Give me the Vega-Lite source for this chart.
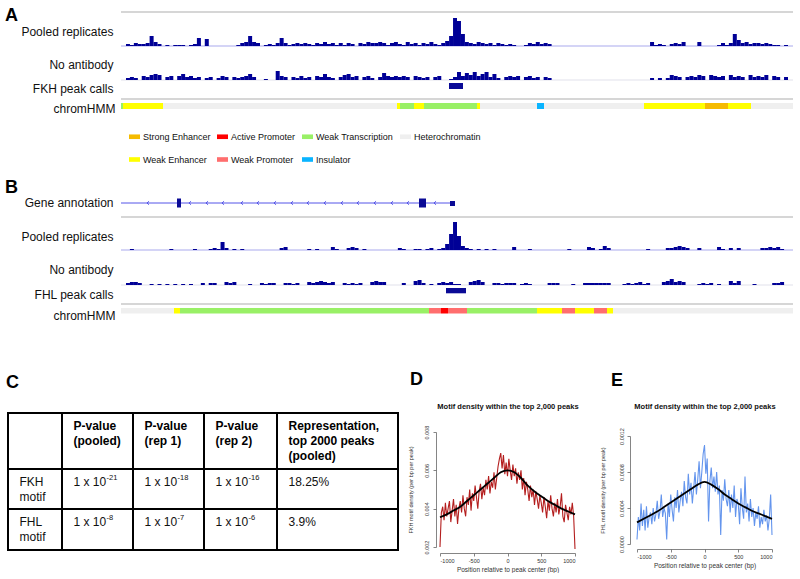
{
"$schema": "https://vega.github.io/schema/vega-lite/v6.json",
"background": "white",
"padding": {"left": 5, "top": 7, "right": 5, "bottom": 0},
"autosize": {"type": "pad"},
"config": {
  "view": {"stroke": null},
  "font": "Liberation Sans",
  "axis": {"labelFont": "Liberation Sans", "titleFont": "Liberation Sans"},
  "title": {"font": "Liberation Sans", "color": "#000000"},
  "text": {"font": "Liberation Sans"}
},
"datasets": {
  "a_pool": [{"p":2,"v":2},{"p":6,"v":1},{"p":10,"v":3},{"p":14,"v":2},{"p":18,"v":2},{"p":22,"v":3},{"p":26,"v":10},{"p":30,"v":4},{"p":34,"v":2},{"p":42,"v":1},{"p":50,"v":1},{"p":54,"v":1},{"p":58,"v":1},{"p":66,"v":1},{"p":70,"v":2},{"p":74,"v":8},{"p":82,"v":7},{"p":114,"v":1},{"p":118,"v":3},{"p":122,"v":4},{"p":126,"v":10},{"p":130,"v":4},{"p":134,"v":3},{"p":142,"v":1},{"p":146,"v":2},{"p":150,"v":1},{"p":154,"v":3},{"p":158,"v":8},{"p":162,"v":3},{"p":166,"v":1},{"p":170,"v":2},{"p":174,"v":3},{"p":178,"v":2},{"p":182,"v":3},{"p":186,"v":2},{"p":190,"v":1},{"p":194,"v":3},{"p":198,"v":2},{"p":202,"v":4},{"p":206,"v":2},{"p":210,"v":3},{"p":214,"v":1},{"p":218,"v":3},{"p":222,"v":1},{"p":226,"v":3},{"p":230,"v":2},{"p":238,"v":3},{"p":242,"v":2},{"p":246,"v":4},{"p":250,"v":3},{"p":254,"v":3},{"p":258,"v":4},{"p":262,"v":3},{"p":266,"v":1},{"p":270,"v":3},{"p":274,"v":4},{"p":278,"v":2},{"p":282,"v":1},{"p":286,"v":4},{"p":290,"v":2},{"p":294,"v":3},{"p":298,"v":1},{"p":302,"v":3},{"p":306,"v":2},{"p":310,"v":4},{"p":314,"v":2},{"p":318,"v":1},{"p":322,"v":3},{"p":326,"v":5},{"p":330,"v":10},{"p":334,"v":28},{"p":338,"v":25},{"p":342,"v":12},{"p":346,"v":4},{"p":350,"v":3},{"p":354,"v":2},{"p":358,"v":4},{"p":362,"v":3},{"p":366,"v":2},{"p":370,"v":3},{"p":374,"v":1},{"p":378,"v":3},{"p":382,"v":2},{"p":386,"v":1},{"p":390,"v":2},{"p":394,"v":1},{"p":406,"v":1},{"p":410,"v":3},{"p":414,"v":2},{"p":418,"v":4},{"p":422,"v":2},{"p":426,"v":3},{"p":430,"v":2},{"p":534,"v":4},{"p":538,"v":1},{"p":542,"v":2},{"p":546,"v":1},{"p":554,"v":2},{"p":558,"v":3},{"p":562,"v":2},{"p":566,"v":4},{"p":582,"v":4},{"p":602,"v":1},{"p":606,"v":3},{"p":610,"v":1},{"p":614,"v":3},{"p":618,"v":12},{"p":622,"v":6},{"p":626,"v":3},{"p":630,"v":4},{"p":634,"v":2},{"p":638,"v":3},{"p":642,"v":3},{"p":646,"v":2},{"p":650,"v":3},{"p":654,"v":2},{"p":658,"v":1},{"p":662,"v":1},{"p":670,"v":1}],
  "a_noab": [{"p":2,"v":2},{"p":6,"v":3},{"p":10,"v":2},{"p":18,"v":4},{"p":22,"v":3},{"p":26,"v":5},{"p":30,"v":6},{"p":34,"v":5},{"p":42,"v":3},{"p":46,"v":4},{"p":54,"v":4},{"p":58,"v":6},{"p":62,"v":3},{"p":66,"v":4},{"p":70,"v":2},{"p":74,"v":3},{"p":82,"v":2},{"p":86,"v":3},{"p":94,"v":2},{"p":98,"v":4},{"p":102,"v":3},{"p":110,"v":3},{"p":114,"v":2},{"p":118,"v":3},{"p":122,"v":4},{"p":126,"v":6},{"p":130,"v":3},{"p":142,"v":1},{"p":154,"v":9},{"p":158,"v":4},{"p":162,"v":3},{"p":170,"v":3},{"p":174,"v":2},{"p":178,"v":4},{"p":182,"v":2},{"p":186,"v":3},{"p":194,"v":4},{"p":198,"v":3},{"p":202,"v":6},{"p":206,"v":3},{"p":210,"v":2},{"p":218,"v":3},{"p":222,"v":5},{"p":226,"v":6},{"p":230,"v":3},{"p":234,"v":4},{"p":242,"v":3},{"p":246,"v":4},{"p":250,"v":2},{"p":258,"v":3},{"p":262,"v":7},{"p":266,"v":4},{"p":270,"v":3},{"p":274,"v":4},{"p":278,"v":3},{"p":282,"v":4},{"p":286,"v":3},{"p":294,"v":4},{"p":298,"v":3},{"p":302,"v":2},{"p":306,"v":3},{"p":314,"v":3},{"p":318,"v":4},{"p":330,"v":1},{"p":334,"v":3},{"p":338,"v":8},{"p":342,"v":4},{"p":346,"v":7},{"p":350,"v":5},{"p":354,"v":8},{"p":358,"v":4},{"p":362,"v":6},{"p":366,"v":8},{"p":370,"v":3},{"p":374,"v":6},{"p":378,"v":2},{"p":386,"v":3},{"p":390,"v":4},{"p":394,"v":3},{"p":398,"v":4},{"p":406,"v":3},{"p":410,"v":4},{"p":414,"v":2},{"p":418,"v":3},{"p":426,"v":3},{"p":430,"v":2},{"p":534,"v":2},{"p":542,"v":2},{"p":550,"v":2},{"p":554,"v":5},{"p":558,"v":4},{"p":562,"v":3},{"p":570,"v":3},{"p":574,"v":4},{"p":578,"v":3},{"p":582,"v":5},{"p":586,"v":4},{"p":594,"v":5},{"p":598,"v":4},{"p":602,"v":3},{"p":606,"v":4},{"p":614,"v":5},{"p":618,"v":3},{"p":622,"v":4},{"p":626,"v":3},{"p":634,"v":5},{"p":638,"v":3},{"p":642,"v":4},{"p":646,"v":3},{"p":650,"v":5},{"p":658,"v":4},{"p":662,"v":3},{"p":670,"v":3}],
  "b_pool": [{"p":6,"v":1},{"p":46,"v":1},{"p":70,"v":1},{"p":86,"v":1},{"p":90,"v":2},{"p":94,"v":1},{"p":98,"v":8},{"p":102,"v":2},{"p":110,"v":1},{"p":118,"v":1},{"p":158,"v":2},{"p":162,"v":3},{"p":186,"v":1},{"p":194,"v":1},{"p":210,"v":3},{"p":214,"v":1},{"p":226,"v":2},{"p":230,"v":3},{"p":234,"v":2},{"p":242,"v":1},{"p":278,"v":2},{"p":282,"v":1},{"p":294,"v":1},{"p":298,"v":1},{"p":306,"v":1},{"p":310,"v":2},{"p":318,"v":1},{"p":322,"v":2},{"p":326,"v":6},{"p":330,"v":16},{"p":334,"v":28},{"p":338,"v":14},{"p":342,"v":4},{"p":346,"v":2},{"p":350,"v":1},{"p":358,"v":1},{"p":366,"v":1},{"p":374,"v":1},{"p":394,"v":3},{"p":410,"v":1},{"p":450,"v":1},{"p":470,"v":3},{"p":474,"v":2},{"p":482,"v":1},{"p":486,"v":4},{"p":490,"v":2},{"p":530,"v":1},{"p":550,"v":2},{"p":554,"v":2},{"p":558,"v":3},{"p":562,"v":4},{"p":566,"v":3},{"p":570,"v":2},{"p":582,"v":2},{"p":602,"v":3},{"p":606,"v":1},{"p":614,"v":2},{"p":622,"v":2},{"p":646,"v":2},{"p":650,"v":2},{"p":654,"v":3},{"p":658,"v":2},{"p":662,"v":3},{"p":666,"v":1}],
  "b_noab": [{"p":2,"v":2},{"p":6,"v":3},{"p":10,"v":3},{"p":14,"v":2},{"p":26,"v":1},{"p":34,"v":1},{"p":42,"v":1},{"p":50,"v":1},{"p":58,"v":1},{"p":66,"v":1},{"p":78,"v":2},{"p":86,"v":2},{"p":90,"v":2},{"p":102,"v":3},{"p":106,"v":2},{"p":110,"v":3},{"p":126,"v":1},{"p":138,"v":2},{"p":142,"v":1},{"p":146,"v":2},{"p":150,"v":2},{"p":162,"v":2},{"p":166,"v":2},{"p":170,"v":1},{"p":174,"v":2},{"p":186,"v":3},{"p":190,"v":2},{"p":194,"v":3},{"p":198,"v":4},{"p":202,"v":3},{"p":206,"v":2},{"p":210,"v":3},{"p":222,"v":2},{"p":226,"v":1},{"p":230,"v":2},{"p":234,"v":1},{"p":238,"v":2},{"p":250,"v":3},{"p":254,"v":4},{"p":258,"v":3},{"p":262,"v":3},{"p":282,"v":2},{"p":294,"v":4},{"p":298,"v":5},{"p":302,"v":2},{"p":310,"v":1},{"p":318,"v":2},{"p":322,"v":3},{"p":326,"v":2},{"p":330,"v":3},{"p":334,"v":1},{"p":338,"v":1},{"p":350,"v":3},{"p":354,"v":4},{"p":358,"v":5},{"p":362,"v":3},{"p":374,"v":2},{"p":378,"v":2},{"p":382,"v":1},{"p":386,"v":2},{"p":390,"v":2},{"p":394,"v":2},{"p":402,"v":1},{"p":406,"v":2},{"p":410,"v":1},{"p":430,"v":2},{"p":434,"v":2},{"p":438,"v":2},{"p":454,"v":1},{"p":466,"v":2},{"p":470,"v":2},{"p":474,"v":2},{"p":478,"v":2},{"p":482,"v":2},{"p":486,"v":2},{"p":490,"v":2},{"p":506,"v":1},{"p":510,"v":2},{"p":514,"v":1},{"p":518,"v":2},{"p":522,"v":3},{"p":526,"v":1},{"p":530,"v":2},{"p":546,"v":3},{"p":550,"v":4},{"p":554,"v":6},{"p":558,"v":3},{"p":562,"v":4},{"p":566,"v":3},{"p":582,"v":1},{"p":586,"v":2},{"p":590,"v":1},{"p":594,"v":2},{"p":602,"v":1},{"p":614,"v":4},{"p":618,"v":2},{"p":622,"v":4},{"p":638,"v":1},{"p":658,"v":2},{"p":662,"v":2},{"p":666,"v":3}],
  "hmm_a": [{"s":0,"e":2,"state":"Weak Transcription"},{"s":2,"e":42,"state":"Weak Enhancer"},{"s":42,"e":276,"state":"Heterochromatin"},{"s":276,"e":279,"state":"Weak Enhancer"},{"s":279,"e":293,"state":"Weak Transcription"},{"s":293,"e":303,"state":"Weak Enhancer"},{"s":303,"e":356,"state":"Weak Transcription"},{"s":356,"e":359,"state":"Weak Enhancer"},{"s":359,"e":416,"state":"Heterochromatin"},{"s":416,"e":423,"state":"Insulator"},{"s":423,"e":523,"state":"Heterochromatin"},{"s":523,"e":584,"state":"Weak Enhancer"},{"s":584,"e":607,"state":"Strong Enhancer"},{"s":607,"e":630,"state":"Weak Enhancer"},{"s":630,"e":672,"state":"Heterochromatin"},{"s":672,"e":672,"state":"Active Promoter"},{"s":672,"e":672,"state":"Weak Promoter"}],
  "hmm_b": [{"s":0,"e":53,"state":"Heterochromatin"},{"s":53,"e":59,"state":"Weak Enhancer"},{"s":59,"e":308,"state":"Weak Transcription"},{"s":308,"e":320,"state":"Weak Promoter"},{"s":320,"e":327,"state":"Active Promoter"},{"s":327,"e":346,"state":"Weak Promoter"},{"s":346,"e":416,"state":"Weak Transcription"},{"s":416,"e":441,"state":"Weak Enhancer"},{"s":441,"e":454,"state":"Weak Promoter"},{"s":454,"e":473,"state":"Weak Enhancer"},{"s":473,"e":486,"state":"Weak Promoter"},{"s":486,"e":492,"state":"Weak Enhancer"},{"s":492,"e":672,"state":"Heterochromatin"}],
  "peak_a": [{"s":328,"e":342}],
  "peak_b": [{"s":325,"e":345}],
  "gene": [{"s":0,"e":334}],
  "introns": [{"p":27},{"p":69},{"p":86},{"p":102},{"p":121},{"p":137},{"p":154},{"p":171},{"p":187},{"p":204},{"p":221},{"p":237},{"p":254},{"p":271},{"p":287},{"p":314}],
  "exons": [{"s":56,"e":60,"k":"cds"},{"s":298,"e":305,"k":"cds"},{"s":329,"e":334,"k":"utr"}],
  "tcols": [{"e":0},{"e":1},{"e":2},{"e":3},{"e":4},{"e":5}],
  "trows": [{"e":0},{"e":1},{"e":2},{"e":3}],
  "table": [
    {"c":1,"r":0,"t":"P-value\n(pooled)"},
    {"c":2,"r":0,"t":"P-value\n(rep 1)"},
    {"c":3,"r":0,"t":"P-value\n(rep 2)"},
    {"c":4,"r":0,"t":"Representation,\ntop 2000 peaks\n(pooled)"},
    {"c":0,"r":1,"t":"FKH\nmotif"},
    {"c":1,"r":1,"t":"1 x 10","s":"-21"},
    {"c":2,"r":1,"t":"1 x 10","s":"-18"},
    {"c":3,"r":1,"t":"1 x 10","s":"-16"},
    {"c":4,"r":1,"t":"18.25%"},
    {"c":0,"r":2,"t":"FHL\nmotif"},
    {"c":1,"r":2,"t":"1 x 10","s":"-8"},
    {"c":2,"r":2,"t":"1 x 10","s":"-7"},
    {"c":3,"r":2,"t":"1 x 10","s":"-6"},
    {"c":4,"r":2,"t":"3.9%"}
  ],
  "d_obs": [{"x":-1000,"v":0.0020},{"x":-980,"v":0.0038},{"x":-960,"v":0.0041},{"x":-940,"v":0.0034},{"x":-920,"v":0.0043},{"x":-900,"v":0.0036},{"x":-880,"v":0.0040},{"x":-860,"v":0.0044},{"x":-840,"v":0.0033},{"x":-820,"v":0.0039},{"x":-800,"v":0.0045},{"x":-780,"v":0.0036},{"x":-760,"v":0.0042},{"x":-740,"v":0.0032},{"x":-720,"v":0.0040},{"x":-700,"v":0.0044},{"x":-680,"v":0.0038},{"x":-660,"v":0.0047},{"x":-640,"v":0.0040},{"x":-620,"v":0.0036},{"x":-600,"v":0.0046},{"x":-580,"v":0.0042},{"x":-560,"v":0.0050},{"x":-540,"v":0.0039},{"x":-520,"v":0.0048},{"x":-500,"v":0.0044},{"x":-480,"v":0.0052},{"x":-460,"v":0.0046},{"x":-440,"v":0.0040},{"x":-420,"v":0.0049},{"x":-400,"v":0.0053},{"x":-380,"v":0.0045},{"x":-360,"v":0.0051},{"x":-340,"v":0.0047},{"x":-320,"v":0.0055},{"x":-300,"v":0.0050},{"x":-280,"v":0.0057},{"x":-260,"v":0.0048},{"x":-240,"v":0.0054},{"x":-220,"v":0.0051},{"x":-200,"v":0.0059},{"x":-180,"v":0.0050},{"x":-160,"v":0.0056},{"x":-140,"v":0.0062},{"x":-120,"v":0.0066},{"x":-100,"v":0.0069},{"x":-80,"v":0.0061},{"x":-60,"v":0.0068},{"x":-40,"v":0.0058},{"x":-20,"v":0.0064},{"x":0,"v":0.0057},{"x":20,"v":0.0066},{"x":40,"v":0.0060},{"x":60,"v":0.0055},{"x":80,"v":0.0063},{"x":100,"v":0.0057},{"x":120,"v":0.0061},{"x":140,"v":0.0053},{"x":160,"v":0.0059},{"x":180,"v":0.0055},{"x":200,"v":0.0060},{"x":220,"v":0.0050},{"x":240,"v":0.0056},{"x":260,"v":0.0047},{"x":280,"v":0.0054},{"x":300,"v":0.0050},{"x":320,"v":0.0044},{"x":340,"v":0.0052},{"x":360,"v":0.0046},{"x":380,"v":0.0050},{"x":400,"v":0.0042},{"x":420,"v":0.0049},{"x":440,"v":0.0045},{"x":460,"v":0.0040},{"x":480,"v":0.0047},{"x":500,"v":0.0043},{"x":520,"v":0.0038},{"x":540,"v":0.0046},{"x":560,"v":0.0041},{"x":580,"v":0.0035},{"x":600,"v":0.0044},{"x":620,"v":0.0039},{"x":640,"v":0.0047},{"x":660,"v":0.0040},{"x":680,"v":0.0036},{"x":700,"v":0.0043},{"x":720,"v":0.0038},{"x":740,"v":0.0045},{"x":760,"v":0.0037},{"x":780,"v":0.0041},{"x":800,"v":0.0048},{"x":820,"v":0.0036},{"x":840,"v":0.0033},{"x":860,"v":0.0042},{"x":880,"v":0.0038},{"x":900,"v":0.0034},{"x":920,"v":0.0041},{"x":940,"v":0.0037},{"x":960,"v":0.0043},{"x":980,"v":0.0036},{"x":1000,"v":0.0019}],
  "d_fit": [{"x":-1000,"v":0.00355},{"x":-900,"v":0.0037},{"x":-800,"v":0.0039},{"x":-700,"v":0.0041},{"x":-600,"v":0.0044},{"x":-500,"v":0.0047},{"x":-400,"v":0.0050},{"x":-300,"v":0.0053},{"x":-200,"v":0.0056},{"x":-100,"v":0.0059},{"x":0,"v":0.0060},{"x":100,"v":0.0059},{"x":200,"v":0.0056},{"x":300,"v":0.0052},{"x":400,"v":0.0049},{"x":500,"v":0.00465},{"x":600,"v":0.0044},{"x":700,"v":0.0042},{"x":800,"v":0.0040},{"x":900,"v":0.00385},{"x":1000,"v":0.0037}],
  "e_obs": [{"x":-1000,"v":0.00005},{"x":-980,"v":0.0003},{"x":-960,"v":0.00015},{"x":-940,"v":0.00045},{"x":-920,"v":0.0002},{"x":-900,"v":0.00038},{"x":-880,"v":0.00015},{"x":-860,"v":0.00042},{"x":-840,"v":0.00018},{"x":-820,"v":0.0003},{"x":-800,"v":0.00035},{"x":-780,"v":0.00022},{"x":-760,"v":0.0004},{"x":-740,"v":0.00025},{"x":-720,"v":0.00033},{"x":-700,"v":0.00048},{"x":-680,"v":0.00028},{"x":-660,"v":0.00036},{"x":-640,"v":0.00055},{"x":-620,"v":0.0003},{"x":-600,"v":0.0004},{"x":-580,"v":0.00034},{"x":-560,"v":0.00005},{"x":-540,"v":0.00045},{"x":-520,"v":0.0003},{"x":-500,"v":0.00055},{"x":-480,"v":0.00038},{"x":-460,"v":0.00025},{"x":-440,"v":0.00052},{"x":-420,"v":0.0004},{"x":-400,"v":0.0006},{"x":-380,"v":0.00035},{"x":-360,"v":0.00048},{"x":-340,"v":0.00058},{"x":-320,"v":0.00042},{"x":-300,"v":0.0007},{"x":-280,"v":0.00052},{"x":-260,"v":0.00045},{"x":-240,"v":0.00078},{"x":-220,"v":0.00055},{"x":-200,"v":0.00068},{"x":-180,"v":0.00045},{"x":-160,"v":0.00062},{"x":-140,"v":0.0008},{"x":-120,"v":0.00055},{"x":-100,"v":0.00072},{"x":-80,"v":0.00092},{"x":-60,"v":0.00062},{"x":-40,"v":0.0008},{"x":-20,"v":0.001},{"x":0,"v":0.0011},{"x":20,"v":0.00078},{"x":40,"v":0.00095},{"x":60,"v":0.00025},{"x":80,"v":0.0007},{"x":100,"v":0.00085},{"x":120,"v":0.00062},{"x":140,"v":0.00075},{"x":160,"v":0.00058},{"x":180,"v":0.0008},{"x":200,"v":0.00055},{"x":220,"v":0.00065},{"x":240,"v":0.0001},{"x":260,"v":0.0006},{"x":280,"v":0.00048},{"x":300,"v":0.00072},{"x":320,"v":0.0005},{"x":340,"v":0.00042},{"x":360,"v":0.0006},{"x":380,"v":0.00035},{"x":400,"v":0.00055},{"x":420,"v":0.0004},{"x":440,"v":0.00065},{"x":460,"v":0.0003},{"x":480,"v":0.0005},{"x":500,"v":0.00045},{"x":520,"v":0.00022},{"x":540,"v":0.00062},{"x":560,"v":0.0004},{"x":580,"v":0.00028},{"x":600,"v":0.00075},{"x":620,"v":0.00035},{"x":640,"v":0.00045},{"x":660,"v":0.00025},{"x":680,"v":0.0005},{"x":700,"v":0.0003},{"x":720,"v":0.0004},{"x":740,"v":0.0002},{"x":760,"v":0.00035},{"x":780,"v":0.00028},{"x":800,"v":0.00042},{"x":820,"v":0.00018},{"x":840,"v":0.0003},{"x":860,"v":0.00022},{"x":880,"v":0.00038},{"x":900,"v":0.00025},{"x":920,"v":0.00032},{"x":940,"v":0.00015},{"x":960,"v":0.00028},{"x":980,"v":0.00055},{"x":1000,"v":0.0001}],
  "e_fit": [{"x":-1000,"v":0.00024},{"x":-900,"v":0.00028},{"x":-800,"v":0.00032},{"x":-700,"v":0.00036},{"x":-600,"v":0.00041},{"x":-500,"v":0.00046},{"x":-400,"v":0.00051},{"x":-300,"v":0.00056},{"x":-200,"v":0.00061},{"x":-100,"v":0.00066},{"x":0,"v":0.00069},{"x":100,"v":0.00066},{"x":200,"v":0.00061},{"x":300,"v":0.00055},{"x":400,"v":0.0005},{"x":500,"v":0.00045},{"x":600,"v":0.00041},{"x":700,"v":0.00037},{"x":800,"v":0.00034},{"x":900,"v":0.00031},{"x":1000,"v":0.00028}]
},
"spacing": 50,
"vconcat": [
  {
    "spacing": 0,
    "bounds": "flush",
    "resolve": {"scale": {"color": "independent"}, "legend": {"color": "independent"}},
    "vconcat": [
      {
        "width": 672, "height": 34,
        "title": {"text": "A", "anchor": "start", "frame": "group", "dx": -116, "offset": -28, "baseline": "alphabetic", "fontSize": 18, "fontWeight": "bold"},
        "layer": [
          {"data": {"values": [{}]}, "mark": {"type": "rule", "color": "#d6d6d6", "strokeWidth": 2},
           "encoding": {"y": {"datum": 34, "type": "quantitative", "scale": {"domain": [0, 34], "nice": false},
             "axis": {"title": "Pooled replicates", "titleAngle": 0, "titleAlign": "right", "titleBaseline": "middle", "titleX": -8, "titleY": 19, "labels": false, "ticks": false, "domain": false, "grid": false, "titleFontWeight": "normal", "titleFontSize": 12, "titleColor": "#111111"}}}},
          {"data": {"values": [{}]}, "mark": {"type": "rule", "color": "#aaaaee", "strokeWidth": 1.2}, "encoding": {"y": {"datum": 0, "type": "quantitative"}}},
          {"data": {"name": "a_pool"}, "mark": {"type": "bar", "width": 4, "color": "#000096"},
           "encoding": {"x": {"field": "p", "type": "quantitative", "scale": {"domain": [0, 672], "nice": false}, "axis": null}, "y": {"field": "v", "type": "quantitative"}}}
        ]
      },
      {
        "width": 672, "height": 34,
        "layer": [
          {"data": {"values": [{}]}, "mark": {"type": "rule", "color": "#e2e2ec", "strokeWidth": 1.2},
           "encoding": {"y": {"datum": 0, "type": "quantitative", "scale": {"domain": [0, 34], "nice": false},
             "axis": {"title": "No antibody", "titleAngle": 0, "titleAlign": "right", "titleBaseline": "middle", "titleX": -8, "titleY": 18, "labels": false, "ticks": false, "domain": false, "grid": false, "titleFontWeight": "normal", "titleFontSize": 12, "titleColor": "#111111"}}}},
          {"data": {"name": "a_noab"}, "mark": {"type": "bar", "width": 4, "color": "#000096"},
           "encoding": {"x": {"field": "p", "type": "quantitative", "scale": {"domain": [0, 672], "nice": false}, "axis": null}, "y": {"field": "v", "type": "quantitative"}}}
        ]
      },
      {
        "width": 672, "height": 19,
        "layer": [
          {"data": {"values": [{}]}, "mark": {"type": "rule", "color": "#d6d6d6", "strokeWidth": 2},
           "encoding": {"y": {"datum": 0, "type": "quantitative", "scale": {"domain": [0, 19], "nice": false},
             "axis": {"title": "FKH peak calls", "titleAngle": 0, "titleAlign": "right", "titleBaseline": "middle", "titleX": -8, "titleY": 8.5, "labels": false, "ticks": false, "domain": false, "grid": false, "titleFontWeight": "normal", "titleFontSize": 12, "titleColor": "#111111"}}}},
          {"data": {"name": "peak_a"}, "mark": {"type": "rect", "color": "#0a0a96"},
           "encoding": {"x": {"field": "s", "type": "quantitative", "scale": {"domain": [0, 672], "nice": false}, "axis": null}, "x2": {"field": "e"}, "y": {"datum": 10, "type": "quantitative"}, "y2": {"datum": 16}}}
        ]
      },
      {
        "width": 672, "height": 12,
        "data": {"name": "hmm_a"},
        "mark": {"type": "rect"},
        "encoding": {
          "x": {"field": "s", "type": "quantitative", "scale": {"domain": [0, 672], "nice": false}, "axis": null},
          "x2": {"field": "e"},
          "y": {"datum": 2, "type": "quantitative", "scale": {"domain": [0, 12], "nice": false},
            "axis": {"title": "chromHMM", "titleAngle": 0, "titleAlign": "right", "titleBaseline": "middle", "titleX": -6, "titleY": 9.5, "labels": false, "ticks": false, "domain": false, "grid": false, "titleFontWeight": "normal", "titleFontSize": 12, "titleColor": "#111111"}},
          "y2": {"datum": 8},
          "color": {"field": "state", "type": "nominal",
            "scale": {"domain": ["Strong Enhancer", "Active Promoter", "Weak Transcription", "Heterochromatin", "Weak Enhancer", "Weak Promoter", "Insulator"], "range": ["#f5bb00", "#ff0000", "#99f066", "#efefef", "#ffff00", "#ff6e6e", "#0ab4ff"]},
            "legend": {"orient": "none", "legendX": 8, "legendY": 32, "direction": "horizontal", "columns": 4, "title": null, "symbolType": "M-1,-0.42H1V0.42H-1Z", "symbolSize": 121, "symbolStrokeWidth": 0, "labelFont": "Liberation Sans", "labelFontSize": 9, "labelColor": "#111111", "labelOffset": 3, "columnPadding": 6, "rowPadding": 12, "gridAlign": "each"}}
        }
      },
      {
        "width": 672, "height": 106,
        "title": {"text": "B", "anchor": "start", "frame": "group", "dx": -116, "offset": -100, "baseline": "alphabetic", "fontSize": 18, "fontWeight": "bold"},
        "layer": [
          {"data": {"values": [{}]}, "mark": {"type": "rule", "color": "#d6d6d6", "strokeWidth": 2},
           "encoding": {"y": {"datum": 0, "type": "quantitative", "scale": {"domain": [0, 106], "nice": false},
             "axis": {"title": "Gene annotation", "titleAngle": 0, "titleAlign": "right", "titleBaseline": "middle", "titleX": -8, "titleY": 91.5, "labels": false, "ticks": false, "domain": false, "grid": false, "titleFontWeight": "normal", "titleFontSize": 12, "titleColor": "#111111"}}}},
          {"data": {"name": "gene"}, "mark": {"type": "rule", "color": "#5555e8", "strokeWidth": 1},
           "encoding": {"x": {"field": "s", "type": "quantitative", "scale": {"domain": [0, 672], "nice": false}, "axis": null}, "x2": {"field": "e"}, "y": {"datum": 14, "type": "quantitative"}}},
          {"data": {"name": "introns"}, "mark": {"type": "point", "shape": "M0.6,-1L-0.6,0L0.6,1", "filled": false, "size": 12, "color": "#5555e8", "strokeWidth": 1, "opacity": 1},
           "encoding": {"x": {"field": "p", "type": "quantitative"}, "y": {"datum": 14, "type": "quantitative"}}},
          {"data": {"name": "exons"}, "transform": [{"filter": "datum.k == 'cds'"}], "mark": {"type": "rect", "color": "#0a0a96"},
           "encoding": {"x": {"field": "s", "type": "quantitative"}, "x2": {"field": "e"}, "y": {"datum": 9.5, "type": "quantitative"}, "y2": {"datum": 18.5}}},
          {"data": {"name": "exons"}, "transform": [{"filter": "datum.k == 'utr'"}], "mark": {"type": "rect", "color": "#0a0a96"},
           "encoding": {"x": {"field": "s", "type": "quantitative"}, "x2": {"field": "e"}, "y": {"datum": 11, "type": "quantitative"}, "y2": {"datum": 16}}}
        ]
      },
      {
        "width": 672, "height": 33,
        "layer": [
          {"data": {"values": [{}]}, "mark": {"type": "rule", "color": "#aaaaee", "strokeWidth": 1.2},
           "encoding": {"y": {"datum": 0, "type": "quantitative", "scale": {"domain": [0, 33], "nice": false},
             "axis": {"title": "Pooled replicates", "titleAngle": 0, "titleAlign": "right", "titleBaseline": "middle", "titleX": -8, "titleY": 19.5, "labels": false, "ticks": false, "domain": false, "grid": false, "titleFontWeight": "normal", "titleFontSize": 12, "titleColor": "#111111"}}}},
          {"data": {"name": "b_pool"}, "mark": {"type": "bar", "width": 4, "color": "#000096"},
           "encoding": {"x": {"field": "p", "type": "quantitative", "scale": {"domain": [0, 672], "nice": false}, "axis": null}, "y": {"field": "v", "type": "quantitative"}}}
        ]
      },
      {
        "width": 672, "height": 35,
        "layer": [
          {"data": {"values": [{}]}, "mark": {"type": "rule", "color": "#e2e2ec", "strokeWidth": 1.2},
           "encoding": {"y": {"datum": 0, "type": "quantitative", "scale": {"domain": [0, 35], "nice": false},
             "axis": {"title": "No antibody", "titleAngle": 0, "titleAlign": "right", "titleBaseline": "middle", "titleX": -8, "titleY": 19.5, "labels": false, "ticks": false, "domain": false, "grid": false, "titleFontWeight": "normal", "titleFontSize": 12, "titleColor": "#111111"}}}},
          {"data": {"name": "b_noab"}, "mark": {"type": "bar", "width": 4, "color": "#000096"},
           "encoding": {"x": {"field": "p", "type": "quantitative", "scale": {"domain": [0, 672], "nice": false}, "axis": null}, "y": {"field": "v", "type": "quantitative"}}}
        ]
      },
      {
        "width": 672, "height": 19,
        "layer": [
          {"data": {"values": [{}]}, "mark": {"type": "rule", "color": "#d6d6d6", "strokeWidth": 2},
           "encoding": {"y": {"datum": 0, "type": "quantitative", "scale": {"domain": [0, 19], "nice": false},
             "axis": {"title": "FHL peak calls", "titleAngle": 0, "titleAlign": "right", "titleBaseline": "middle", "titleX": -8, "titleY": 9, "labels": false, "ticks": false, "domain": false, "grid": false, "titleFontWeight": "normal", "titleFontSize": 12, "titleColor": "#111111"}}}},
          {"data": {"name": "peak_b"}, "mark": {"type": "rect", "color": "#0a0a96"},
           "encoding": {"x": {"field": "s", "type": "quantitative", "scale": {"domain": [0, 672], "nice": false}, "axis": null}, "x2": {"field": "e"}, "y": {"datum": 10.7, "type": "quantitative"}, "y2": {"datum": 16}}}
        ]
      },
      {
        "width": 672, "height": 12,
        "data": {"name": "hmm_b"},
        "mark": {"type": "rect"},
        "encoding": {
          "x": {"field": "s", "type": "quantitative", "scale": {"domain": [0, 672], "nice": false}, "axis": null},
          "x2": {"field": "e"},
          "y": {"datum": 2.5, "type": "quantitative", "scale": {"domain": [0, 12], "nice": false},
            "axis": {"title": "chromHMM", "titleAngle": 0, "titleAlign": "right", "titleBaseline": "middle", "titleX": -6, "titleY": 11, "labels": false, "ticks": false, "domain": false, "grid": false, "titleFontWeight": "normal", "titleFontSize": 12, "titleColor": "#111111"}},
          "y2": {"datum": 8},
          "color": {"field": "state", "type": "nominal",
            "scale": {"domain": ["Strong Enhancer", "Active Promoter", "Weak Transcription", "Heterochromatin", "Weak Enhancer", "Weak Promoter", "Insulator"], "range": ["#f5bb00", "#ff0000", "#99f066", "#efefef", "#ffff00", "#ff6e6e", "#0ab4ff"]},
            "legend": null}
        }
      }
    ]
  },
  {
    "spacing": 7,
    "hconcat": [
      {
        "width": 277, "height": 137,
        "title": {"text": "C", "anchor": "start", "frame": "group", "dx": -115, "offset": 6, "baseline": "alphabetic", "fontSize": 18, "fontWeight": "bold"},
        "layer": [
          {"data": {"name": "tcols"}, "mark": {"type": "rule", "color": "#000000", "strokeWidth": 2, "strokeCap": "square"},
           "encoding": {
             "x": {"field": "e", "type": "quantitative", "scale": {"domain": [0, 1, 2, 3, 4, 5], "range": [-113, -59, 12, 83, 156, 277], "nice": false, "zero": false}, "axis": null},
             "y": {"datum": 0, "type": "quantitative", "scale": {"domain": [0, 1, 2, 3], "range": [0, 56, 96, 137], "nice": false, "zero": false}, "axis": null},
             "y2": {"datum": 3}}},
          {"data": {"name": "trows"}, "mark": {"type": "rule", "color": "#000000", "strokeWidth": 2, "strokeCap": "square"},
           "encoding": {"y": {"field": "e", "type": "quantitative"}, "x": {"datum": 0, "type": "quantitative"}, "x2": {"datum": 5}}},
          {"data": {"name": "table"}, "transform": [{"filter": "datum.r == 0"}],
           "mark": {"type": "text", "align": "left", "baseline": "top", "dx": 11.5, "dy": 7.5, "fontSize": 12, "fontWeight": "bold", "lineBreak": "\n", "lineHeight": 15, "color": "#000000"},
           "encoding": {"x": {"field": "c", "type": "quantitative"}, "y": {"field": "r", "type": "quantitative"}, "text": {"field": "t"}}},
          {"data": {"name": "table"}, "transform": [{"filter": "datum.r > 0"}],
           "mark": {"type": "text", "align": "left", "baseline": "top", "dx": 11.5, "dy": 7.5, "fontSize": 12, "lineBreak": "\n", "lineHeight": 15, "color": "#111111"},
           "encoding": {"x": {"field": "c", "type": "quantitative"}, "y": {"field": "r", "type": "quantitative"}, "text": {"field": "t"}}},
          {"data": {"name": "table"}, "transform": [{"filter": "datum.s"}],
           "mark": {"type": "text", "align": "left", "baseline": "top", "dx": 44.5, "dy": 5, "fontSize": 7.5, "color": "#111111"},
           "encoding": {"x": {"field": "c", "type": "quantitative"}, "y": {"field": "r", "type": "quantitative"}, "text": {"field": "s"}}}
        ]
      },
      {
        "spacing": 20,
        "hconcat": [
          {
            "width": 135, "height": 134,
            "title": {"text": "D", "anchor": "start", "frame": "group", "dx": -30, "offset": -1, "baseline": "alphabetic", "fontSize": 18, "fontWeight": "bold"},
            "layer": [
              {"data": {"name": "d_obs"}, "mark": {"type": "line", "color": "#b41e1e", "strokeWidth": 1.1},
               "encoding": {
                 "x": {"field": "x", "type": "quantitative", "scale": {"domain": [-1000, 1000], "nice": false, "zero": false},
                   "axis": {"values": [-1000, -500, 0, 500, 1000], "labelExpr": "toString(datum.value)", "offset": 6, "tickSize": 3, "tickWidth": 0.8, "tickColor": "#666666", "domainColor": "#666666", "domainWidth": 0.8, "grid": false, "labelFontSize": 5.5, "labelColor": "#333333", "labelPadding": 2, "title": "Position relative to peak center (bp)", "titleFontSize": 6.5, "titleFontWeight": "normal", "titleColor": "#333333", "titlePadding": 3}},
                 "y": {"field": "v", "type": "quantitative", "scale": {"domain": [0.002, 0.008], "range": [134, 19], "nice": false, "zero": false},
                   "axis": {"values": [0.002, 0.004, 0.006, 0.008], "format": ".3f", "labelAngle": -90, "labelAlign": "center", "labelBaseline": "bottom", "offset": 4, "tickSize": 3, "tickWidth": 0.8, "tickColor": "#666666", "domainColor": "#666666", "domainWidth": 0.8, "grid": false, "labelFontSize": 5.5, "labelColor": "#333333", "labelPadding": 4, "title": "FKH motif density (per bp per peak)", "titleFontSize": 5.5, "titleFontWeight": "normal", "titleColor": "#333333", "titlePadding": 11}}}},
              {"data": {"name": "d_fit"}, "mark": {"type": "line", "color": "#000000", "strokeWidth": 1.8, "interpolate": "monotone"},
               "encoding": {
                 "x": {"field": "x", "type": "quantitative", "axis": {"orient": "top", "labels": false, "ticks": false, "domain": false, "grid": false, "title": "Motif density within the top 2,000 peaks", "titleFontSize": 7.5, "titleFontWeight": "bold", "titleColor": "#111111", "titlePadding": 3}},
                 "y": {"field": "v", "type": "quantitative"}}}
            ],
            "resolve": {"axis": {"x": "independent"}}
          },
          {
            "width": 135, "height": 131,
            "title": {"text": "E", "anchor": "start", "frame": "group", "dx": -26, "offset": -2, "baseline": "alphabetic", "fontSize": 18, "fontWeight": "bold"},
            "layer": [
              {"data": {"name": "e_obs"}, "mark": {"type": "line", "color": "#6495ed", "strokeWidth": 1.1},
               "encoding": {
                 "x": {"field": "x", "type": "quantitative", "scale": {"domain": [-1000, 1000], "nice": false, "zero": false},
                   "axis": {"values": [-1000, -500, 0, 500, 1000], "labelExpr": "toString(datum.value)", "offset": 5, "tickSize": 3, "tickWidth": 0.8, "tickColor": "#666666", "domainColor": "#666666", "domainWidth": 0.8, "grid": false, "labelFontSize": 5.5, "labelColor": "#333333", "labelPadding": 2, "title": "Position relative to peak center (bp)", "titleFontSize": 6.5, "titleFontWeight": "normal", "titleColor": "#333333", "titlePadding": 3}},
                 "y": {"field": "v", "type": "quantitative", "scale": {"domain": [0, 0.0012], "range": [131, 23], "nice": false, "zero": false},
                   "axis": {"values": [0, 0.0004, 0.0008, 0.0012], "format": ".4f", "labelAngle": -90, "labelAlign": "center", "labelBaseline": "bottom", "offset": 7, "tickSize": 3, "tickWidth": 0.8, "tickColor": "#666666", "domainColor": "#666666", "domainWidth": 0.8, "grid": false, "labelFontSize": 5.5, "labelColor": "#333333", "labelPadding": 3, "title": "FHL motif density (per bp per peak)", "titleFontSize": 5.5, "titleFontWeight": "normal", "titleColor": "#333333", "titlePadding": 14}}}},
              {"data": {"name": "e_fit"}, "mark": {"type": "line", "color": "#000000", "strokeWidth": 1.8, "interpolate": "monotone"},
               "encoding": {
                 "x": {"field": "x", "type": "quantitative", "axis": {"orient": "top", "labels": false, "ticks": false, "domain": false, "grid": false, "title": "Motif density within the top 2,000 peaks", "titleFontSize": 7.5, "titleFontWeight": "bold", "titleColor": "#111111", "titlePadding": 3}},
                 "y": {"field": "v", "type": "quantitative"}}}
            ],
            "resolve": {"axis": {"x": "independent"}}
          }
        ]
      }
    ]
  }
]
}
